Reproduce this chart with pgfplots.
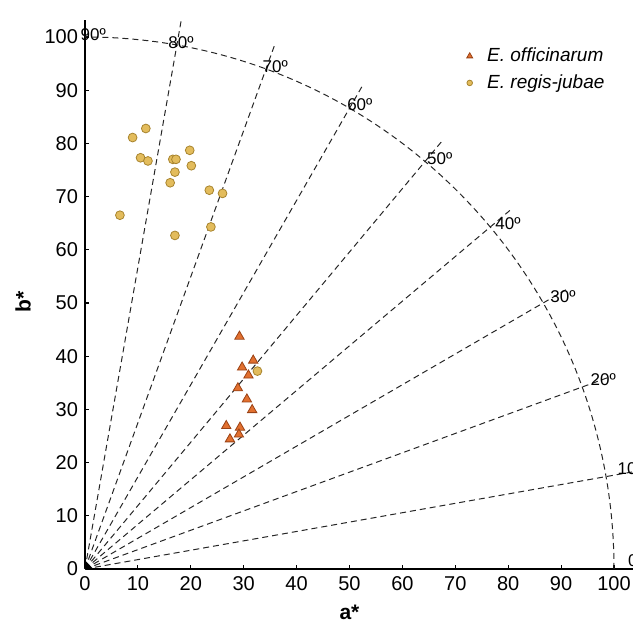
\documentclass[border=0pt]{standalone}
\usepackage{fontspec}
\setmainfont{Liberation Sans}
\usepackage{pgfplots}
\pgfplotsset{compat=1.18}

\definecolor{trifill}{HTML}{E2702F}
\definecolor{tridraw}{HTML}{9A4215}
\definecolor{dotfill}{HTML}{E3BC5C}
\definecolor{dotdraw}{HTML}{A8842E}

\tikzset{guide/.style={black!85, line width=0.5pt, dash pattern=on 3pt off 2pt},
  deglab/.style={anchor=west, inner sep=0pt, font=\fontsize{8.5}{10}\selectfont}}

\begin{document}
\begin{tikzpicture}[trim left=-42.5pt, trim right=274pt]
\begin{axis}[
  x=2.645pt, y=2.66pt,
  xmin=0, xmax=103.6, ymin=0, ymax=103.2,
  axis lines=left, axis line style={line width=1.2pt, -},
  xtick={0,10,...,100}, ytick={0,10,...,100},
  tick align=inside, major tick length=2pt, tick style={black, line width=0.6pt},
  ticklabel style={font=\fontsize{10}{12}\selectfont},
  /pgf/number format/assume math mode=true,
  xlabel={a*}, ylabel={b*},
  every axis x label/.style={at={(axis cs:50,-8.1)}, anchor=center, font=\fontsize{10.5}{12}\selectfont\bfseries},
  every axis y label/.style={at={(axis cs:-11.7,50.2)}, rotate=90, anchor=center, font=\fontsize{10.5}{12}\selectfont\bfseries},
  clip=false,
  legend style={draw=none, fill=none, inner sep=0pt, at={(axis cs:70.1,98.8)}, anchor=north west,
    font=\fontsize{9.5}{11}\selectfont\itshape, row sep=1pt, cells={anchor=west}},
  legend image code/.code={\path (0cm,0cm) (0.46cm,0cm);
    \draw[mark repeat=2,mark phase=2,#1] plot coordinates {(0cm,0cm)(0.23cm,0cm)(0.46cm,0cm)};},
]
% guide rays and the arc at chroma 100
\pgfplotsinvokeforeach{10,20,...,80}{
  \draw[guide] (axis cs:0,0) -- (axis cs:{105*cos(#1)},{105*sin(#1)});
}
\draw[guide] (axis cs:100,0) arc[start angle=0, end angle=90, radius=100];
\fill[black] (axis cs:0,0) -- (axis cs:1.6,0) -- (axis cs:0,1.6) -- cycle;

\node[deglab] at (axis cs:-0.9,100.4) {90º};
\node[deglab] at (axis cs:15.7,98.9) {80º};
\node[deglab] at (axis cs:33.5,94.4) {70º};
\node[deglab] at (axis cs:49.5,87.2) {60º};
\node[deglab] at (axis cs:64.6,77.2) {50º};
\node[deglab] at (axis cs:77.5,65.0) {40º};
\node[deglab] at (axis cs:87.9,51.2) {30º};
\node[deglab] at (axis cs:95.5,35.5) {20º};
\node[deglab] at (axis cs:100.6,18.9) {10º};
\node[deglab] at (axis cs:102.6,1.5) {0º};

\addplot[only marks, mark=triangle*, mark size=2.7pt,
  mark options={fill=trifill, draw=tridraw, line width=0.4pt},
  legend image post style={mark size=1.7pt}] coordinates {
  (29.2,43.7) (31.8,39.2) (29.7,37.9) (30.9,36.4) (28.9,34.0) (30.6,31.9)
  (31.6,29.9) (26.7,26.9) (29.3,26.6) (29.1,25.3) (27.4,24.4)
};
\addlegendentry{E. officinarum}

\addplot[only marks, mark=*, mark size=2.2pt,
  mark options={fill=dotfill, draw=dotdraw, line width=0.4pt},
  legend image post style={mark size=1.4pt}] coordinates {
  (11.5,82.8) (9.0,81.1) (10.5,77.3) (11.9,76.7) (16.6,77.0) (17.2,77.0)
  (19.8,78.7) (20.1,75.8) (17.0,74.6) (16.1,72.6) (23.5,71.2) (26.0,70.6)
  (6.6,66.5) (23.8,64.3) (17.0,62.7) (32.6,37.2)
};
\addlegendentry{E. regis-jubae}
\end{axis}
\path (0pt,-28.5pt) (0pt,284.5pt);
\end{tikzpicture}
\end{document}
